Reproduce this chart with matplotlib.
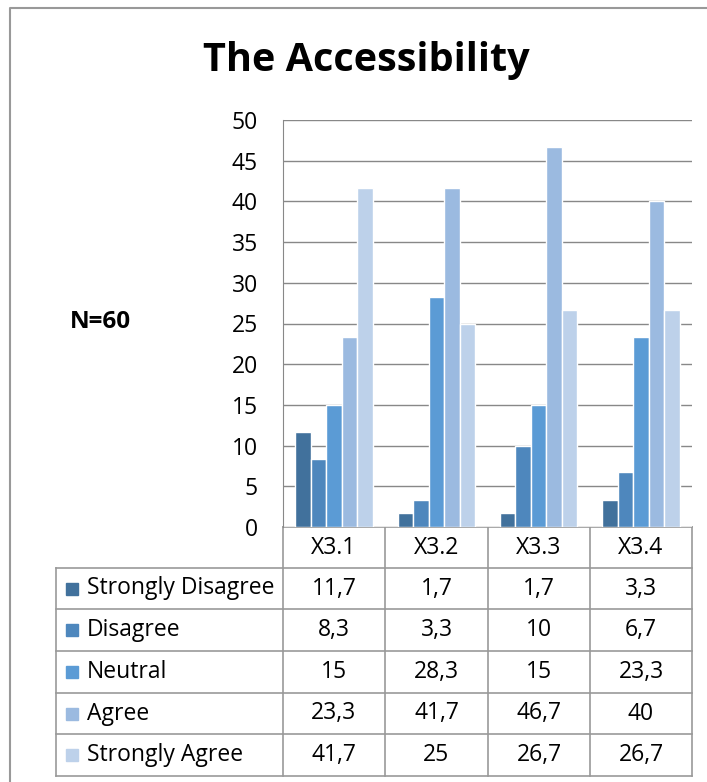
import numpy as np
import matplotlib.pyplot as plt
from matplotlib.patches import Rectangle

plt.rcParams['font.family'] = ['Open Sans', 'DejaVu Sans']

items = ["X3.1", "X3.2", "X3.3", "X3.4"]
answers = ["Strongly Disagree", "Disagree", "Neutral", "Agree", "Strongly Agree"]
strongly_disagree = [11.7, 1.7, 1.7, 3.3]
disagree = [8.3, 3.3, 10, 6.7]
neutral = [15, 28.3, 15, 23.3]
agree = [23.3, 41.7, 46.7, 40]
strongly_agree = [41.7, 25, 26.7, 26.7]
series = [strongly_disagree, disagree, neutral, agree, strongly_agree]
colors = ["#41719C", "#4E87BD", "#5B9BD5", "#9BBAE0", "#BDD1EA"]

W, H = 707, 782
fig = plt.figure(figsize=(W / 100, H / 100), dpi=100)

# page overlay in pixel coordinates (for frame, title and the data table)
pg = fig.add_axes([0, 0, 1, 1])
pg.set_xlim(0, W)
pg.set_ylim(H, 0)
pg.axis("off")

# chart area
x0, x1, ytop, ybot = 283, 692, 120, 527
ax = fig.add_axes([x0 / W, 1 - ybot / H, (x1 - x0) / W, (ybot - ytop) / H])
ax.set_xlim(0, len(items))
ax.set_ylim(0, 50)
ax.set_yticks(np.arange(0, 51, 5))
ax.set_xticks([])
ax.yaxis.grid(True, color="#888888", lw=1)
ax.set_axisbelow(True)
for s in ["top", "right", "bottom"]:
    ax.spines[s].set_visible(False)
ax.spines["left"].set_color("#888888")
ax.tick_params(axis="y", length=0, labelsize=16.5, pad=18)

bw = 0.152
for i, vals in enumerate(series):
    xs = np.arange(len(items)) + 0.5 + (i - 2) * bw
    ax.bar(xs, vals, width=bw, color=colors[i], edgecolor="white", linewidth=1)

# frame
pg.plot([10, 10, W], [H, 8, 8], color="#999999", lw=1.5)

pg.text(366, 60, "The Accessibility", ha="center", va="center",
        fontsize=28.5, fontweight="bold")
pg.text(100, 322, "N=60", ha="center", va="center",
        fontsize=17.5, fontweight="bold")

# data table
lc = "#999999"
cols = [283, 385, 488, 590, 692]
rows = [568, 609, 651, 693, 734, 776]
pg.plot([x0, x1], [ybot, ybot], color=lc, lw=1.2)
for cx in cols:
    pg.plot([cx, cx], [ybot, rows[-1]], color=lc, lw=1.2)
pg.plot([56, 56], [rows[0], rows[-1]], color=lc, lw=1.2)
for ry in rows:
    pg.plot([56, x1], [ry, ry], color=lc, lw=1.2)

for j, it in enumerate(items):
    pg.text((cols[j] + cols[j + 1]) / 2, (ybot + rows[0]) / 2, it,
            ha="center", va="center", fontsize=16.5)

for i, name in enumerate(answers):
    cy = (rows[i] + rows[i + 1]) / 2
    pg.add_patch(Rectangle((66, cy - 6), 12, 12, color=colors[i]))
    pg.text(87, cy, name, ha="left", va="center", fontsize=16.5)
    for j, v in enumerate(series[i]):
        txt = ("%g" % v).replace(".", ",")
        pg.text((cols[j] + cols[j + 1]) / 2, cy, txt,
                ha="center", va="center", fontsize=16.5)

fig.savefig("out.png", dpi=100)
